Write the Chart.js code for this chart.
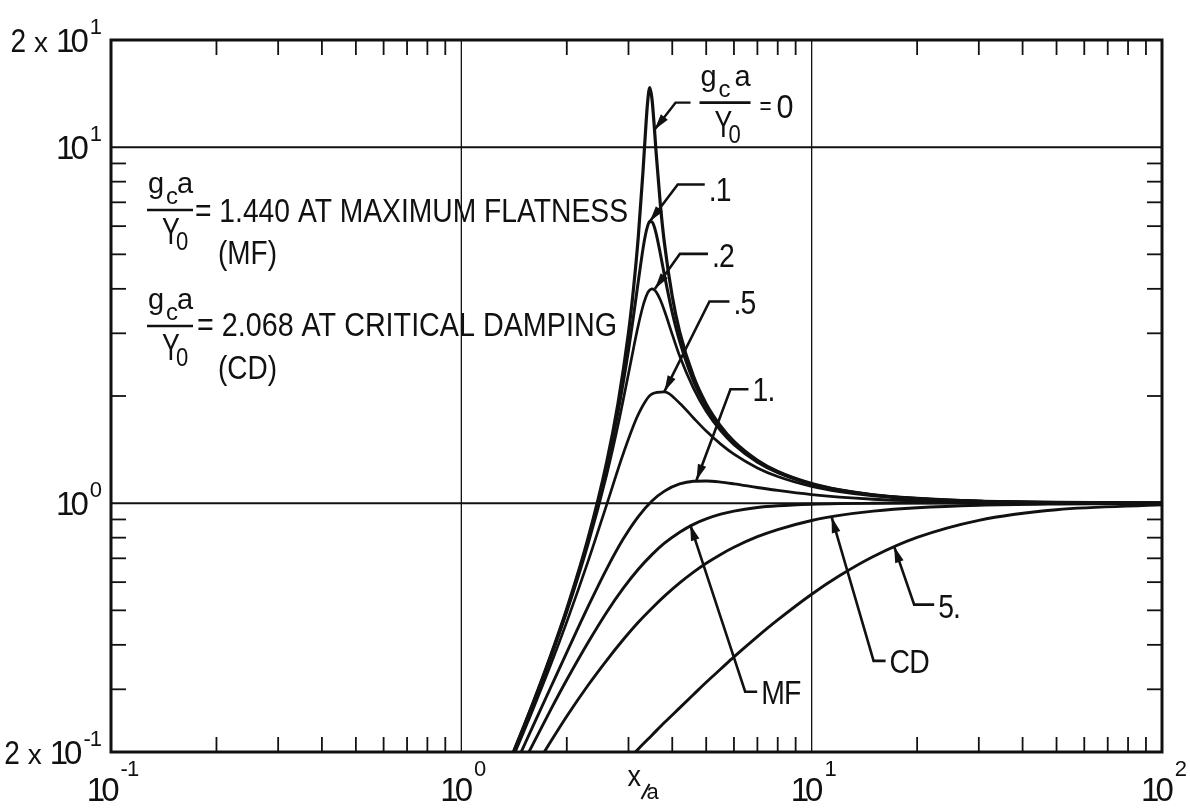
<!DOCTYPE html>
<html>
<head>
<meta charset="utf-8">
<title>Amplitude ratio versus x/a</title>
<script src="https://cdn.jsdelivr.net/npm/chart.js"></script>
<style>
  html, body { margin: 0; padding: 0; background: #fff; }
  canvas { display: block; }
</style>
</head>
<body>
<canvas id="chart" width="1190" height="808"></canvas>
<script>
// ---- sampled curves: frequency ratio x/a and amplitude ratio ----
const xDense = [1.2, 1.4, 1.6, 1.8, 2.0, 2.3, 2.6, 2.8, 3.0, 3.1, 3.2, 3.3, 3.35, 3.4, 3.45, 3.5, 3.55, 3.6, 3.7, 3.8,
                4.0, 4.2, 4.6, 5.0, 5.5, 6, 7, 8, 10, 12, 15, 20, 30, 50, 100];
const ampG0 = [0.138, 0.197, 0.274, 0.374, 0.505, 0.797, 1.305, 1.905, 3.01, 4.00, 5.61, 8.54, 10.8, 13.3, 14.7, 13.7, 11.6, 9.58, 6.89, 5.37,
               3.81, 3.03, 2.27, 1.90, 1.645, 1.491, 1.320, 1.228, 1.135, 1.090, 1.056, 1.031, 1.013, 1.005, 1.001];
const ampG01 = [0.137, 0.197, 0.273, 0.372, 0.501, 0.785, 1.265, 1.80, 2.69, 3.35, 4.20, 5.18, 5.64, 5.99, 6.18, 6.17, 6.00, 5.71, 5.01, 4.37,
                3.43, 2.85, 2.20, 1.867, 1.626, 1.480, 1.314, 1.224, 1.133, 1.089, 1.055, 1.030, 1.013, 1.005, 1.001];
const ampG02 = [0.137, 0.196, 0.271, 0.368, 0.494, 0.766, 1.203, 1.655, 2.31, 2.72, 3.16, 3.58, 3.75, 3.89, 3.97, 4.00, 3.98, 3.92, 3.72, 3.47,
                2.98, 2.59, 2.10, 1.812, 1.596, 1.460, 1.303, 1.218, 1.130, 1.087, 1.054, 1.030, 1.013, 1.005, 1.001];

const xCoarse = [1.2, 1.4, 1.6, 1.8, 2.0, 2.3, 2.6, 2.9, 3.2, 3.5, 3.8, 4.2, 4.6, 5.0, 5.5, 6, 7, 8, 10, 12, 15, 20, 30, 50, 100];
const ampG05 = [0.135, 0.192, 0.263, 0.352, 0.464, 0.686, 0.991, 1.379, 1.776, 2.026, 2.054, 1.909, 1.735, 1.594, 1.465, 1.373, 1.256,
                1.188, 1.114, 1.077, 1.048, 1.027, 1.012, 1.004, 1.001];
const ampG1 = [0.128, 0.177, 0.236, 0.304, 0.381, 0.512, 0.654, 0.794, 0.917, 1.014, 1.081, 1.132, 1.152, 1.154, 1.146, 1.133, 1.107,
               1.086, 1.057, 1.040, 1.026, 1.015, 1.007, 1.002, 1.001];
const ampMF = [0.120, 0.163, 0.210, 0.263, 0.319, 0.406, 0.494, 0.577, 0.652, 0.717, 0.772, 0.829, 0.872, 0.903, 0.931, 0.950, 0.972,
               0.983, 0.993, 0.997, 0.999, 1.0, 1.0, 1.0, 1.0];
const ampCD = [0.108, 0.141, 0.177, 0.214, 0.252, 0.308, 0.362, 0.414, 0.463, 0.507, 0.548, 0.597, 0.640, 0.678, 0.718, 0.752, 0.805,
               0.843, 0.894, 0.924, 0.950, 0.971, 0.987, 0.995, 0.999];

const xHeavy = [2.9, 3.2, 3.5, 3.8, 4.2, 4.6, 5.0, 5.5, 6, 7, 8, 10, 12, 15, 20, 30, 50, 100];
const ampG5 = [0.184, 0.204, 0.223, 0.242, 0.266, 0.290, 0.314, 0.342, 0.370, 0.422, 0.470, 0.555, 0.625, 0.708, 0.801, 0.895, 0.958, 0.989];

// ---- axis decoration values ----
const xRange = [0.1, 100];
const yRange = [0.2, 20];
const decades = [0.1, 1, 10];
const minorSteps = [2, 3, 4, 5, 6, 7, 8, 9];
const gridValues = [1, 10];
const xTickLabels = [{ v: 0.1, exp: '-1' }, { v: 1, exp: '0' }, { v: 10, exp: '1' }, { v: 100, exp: '2' }];
const yTickLabels = [{ v: 20, lead: '2', exp: '1' }, { v: 10, lead: null, exp: '1' },
                     { v: 1, lead: null, exp: '0' }, { v: 0.2, lead: '2', exp: '-1' }];

// curve call-outs: arrow tip sits on the curve (data units), leader bends given in pixels from the tip
const callouts = [
  { text: null, tip: [3.56, 11.2], elbow: [21, -27], end: [36, -27] },
  { text: '.1', tip: [3.45, 6.18], elbow: [28, -37], end: [55, -37], dy: 16 },
  { text: '.2', tip: [3.57, 4.0], elbow: [25, -35], end: [53, -35], dy: 13 },
  { text: '.5', tip: [3.8, 2.06], elbow: [45, -90], end: [65, -90], dy: 13 },
  { text: '1.', tip: [4.69, 1.16], elbow: [34, -91], end: [52, -91], dy: 12 },
  { text: 'MF', tip: [4.5, 0.87], elbow: [55, 167], end: [67, 167], dy: 12 },
  { text: 'CD', tip: [11.4, 0.915], elbow: [42, 144], end: [54, 144], dy: 12 },
  { text: '5.', tip: [17.2, 0.755], elbow: [20, 58], end: [40, 58], dy: 13 }
];

const INK = '#111';
const FONT = '"Liberation Sans", Arial, Helvetica, sans-serif';
const TICK = 15;

function pts(xs, ys) { return xs.map((x, i) => ({ x: x, y: ys[i] })); }

function measure(ctx, s, size, ls) {
  ctx.save();
  ctx.font = size + 'px ' + FONT;
  ctx.letterSpacing = (ls || 0) + 'px';
  const w = ctx.measureText(s).width - (ls || 0);
  ctx.restore();
  return w;
}

function put(ctx, s, x, base, size, o) {
  o = o || {};
  ctx.save();
  ctx.font = size + 'px ' + FONT;
  ctx.letterSpacing = (o.ls || 0) + 'px';
  ctx.textBaseline = 'alphabetic';
  ctx.textAlign = 'left';
  const w = ctx.measureText(s).width - (o.ls || 0);
  const k = o.width ? o.width / w : (o.sx || 1);
  let left = x;
  if (o.align === 'right') left = x - w * k;
  else if (o.align === 'center') left = x - w * k / 2;
  ctx.translate(left, base);
  ctx.scale(k, 1);
  ctx.fillStyle = INK;
  ctx.fillText(s, 0, 0);
  ctx.restore();
  return w * k;
}

function seg(ctx, x1, y1, x2, y2) {
  ctx.beginPath(); ctx.moveTo(x1, y1); ctx.lineTo(x2, y2); ctx.stroke();
}

function arrowHead(ctx, fx, fy, tx, ty) {
  const a = Math.atan2(ty - fy, tx - fx), len = 16, half = 4.4;
  const bx = tx - len * Math.cos(a), by = ty - len * Math.sin(a);
  ctx.beginPath();
  ctx.moveTo(tx, ty);
  ctx.lineTo(bx + half * Math.sin(a), by - half * Math.cos(a));
  ctx.lineTo(bx - half * Math.sin(a), by + half * Math.cos(a));
  ctx.closePath();
  ctx.fill();
}

// g_c a / Y_0 stacked fraction with its bar starting at (bx, by)
function fraction(ctx, bx, by, w) {
  put(ctx, 'g', bx + 1, by - 17, 29);
  put(ctx, 'c', bx + 19, by - 6, 24);
  put(ctx, 'a', bx + w - 16, by - 17, 29);
  ctx.lineWidth = 2.6;
  seg(ctx, bx, by, bx + w, by);
  put(ctx, 'Y', bx + 15, by + 34, 37, { sx: 0.72 });
  put(ctx, '0', bx + 29, by + 40, 26, { sx: 0.85 });
}

const decorations = {
  id: 'decorations',
  beforeDatasetsDraw(chart) {
    const { ctx, chartArea: a, scales: { x, y } } = chart;
    ctx.save();
    ctx.strokeStyle = INK;
    ctx.lineWidth = 1.3;
    gridValues.forEach(v => { const px = x.getPixelForValue(v); seg(ctx, px, a.top, px, a.bottom); });
    ctx.lineWidth = 2;
    gridValues.forEach(v => { const py = y.getPixelForValue(v); seg(ctx, a.left, py, a.right, py); });
    ctx.restore();
  },
  afterDatasetsDraw(chart) {
    const { ctx, chartArea: a, scales: { x, y } } = chart;
    ctx.save();
    ctx.strokeStyle = INK;
    ctx.fillStyle = INK;
    // frame
    ctx.lineWidth = 3;
    ctx.strokeRect(a.left, a.top, a.right - a.left, a.bottom - a.top);
    // inward minor ticks on all four sides
    ctx.lineWidth = 1.8;
    decades.forEach(d => minorSteps.forEach(m => {
      const v = d * m;
      if (v > xRange[0] && v < xRange[1]) {
        const px = x.getPixelForValue(v);
        seg(ctx, px, a.bottom, px, a.bottom - TICK);
        seg(ctx, px, a.top, px, a.top + TICK);
      }
      if (v > yRange[0] + 1e-9 && v < yRange[1] - 1e-9) {
        const py = y.getPixelForValue(v);
        seg(ctx, a.left, py, a.left + TICK, py);
        seg(ctx, a.right, py, a.right - TICK, py);
      }
    }));
    // call-out leaders with arrowheads
    ctx.lineWidth = 2.4;
    callouts.forEach(c => {
      const tx = x.getPixelForValue(c.tip[0]), ty = y.getPixelForValue(c.tip[1]);
      const ex = tx + c.elbow[0], ey = ty + c.elbow[1];
      const nx = tx + c.end[0], ny = ty + c.end[1];
      ctx.beginPath(); ctx.moveTo(nx, ny); ctx.lineTo(ex, ey); ctx.lineTo(tx, ty); ctx.stroke();
      arrowHead(ctx, ex, ey, tx, ty);
      if (c.text) put(ctx, c.text, nx + 4, ny + c.dy, 33, { sx: 0.86, ls: -1 });
      else {
        fraction(ctx, nx + 9, ny, 51);
        put(ctx, '=', nx + 69, ny + 11, 26, { sx: 0.8 });
        put(ctx, '0', nx + 86, ny + 15, 34, { sx: 0.9 });
      }
    });
    ctx.restore();
  },
  afterDraw(chart) {
    const { ctx, chartArea: a, scales: { x, y } } = chart;
    ctx.save();
    // y tick labels, right-aligned against the frame
    yTickLabels.forEach(l => {
      const py = y.getPixelForValue(l.v);
      const we = measure(ctx, l.exp, 22, -1);
      const expLeft = a.left - 9 - we;
      put(ctx, l.exp, expLeft, py - 6, 22, { ls: -1 });
      const w10 = put(ctx, '10', expLeft - 1, py + 12, 33, { align: 'right', ls: -4 });
      if (l.lead) {
        const xw = put(ctx, 'x', expLeft - 1 - w10 - 8, py + 12, 28, { align: 'right' });
        put(ctx, l.lead, expLeft - 1 - w10 - 8 - xw - 8, py + 12, 33, { align: 'right', sx: 0.85 });
      }
    });
    // x tick labels
    xTickLabels.forEach(l => {
      const px = x.getPixelForValue(l.v);
      const wm = measure(ctx, '10', 33, -4);
      const we = measure(ctx, l.exp, 22, -1);
      const left = px + 2 - (wm + 1 + we) / 2;
      put(ctx, '10', left, a.bottom + 49, 33, { ls: -4 });
      put(ctx, l.exp, left + wm + 1, a.bottom + 24, 22, { ls: -1 });
    });
    // axis title x/a
    const cx = (a.left + a.right) / 2;
    put(ctx, 'x', cx - 9, a.bottom + 34, 30, { sx: 0.9 });
    ctx.strokeStyle = INK; ctx.lineWidth = 2;
    seg(ctx, cx + 5, a.bottom + 47, cx + 13, a.bottom + 32);
    put(ctx, 'a', cx + 10, a.bottom + 47, 22);
    // notes on the left
    fraction(ctx, a.left + 36, 210, 46);
    put(ctx, '= 1.440 AT MAXIMUM FLATNESS', a.left + 84, 222, 34, { width: 433 });
    put(ctx, '(MF)', a.left + 107, 264, 34, { width: 59 });
    fraction(ctx, a.left + 36, 326, 46);
    put(ctx, '= 2.068 AT CRITICAL DAMPING', a.left + 86, 336, 34, { width: 420 });
    put(ctx, '(CD)', a.left + 107, 379, 34, { width: 59 });
    ctx.restore();
  }
};

const curveStyle = (w) => ({
  borderColor: INK, borderWidth: w, pointRadius: 0, fill: false,
  cubicInterpolationMode: 'monotone'
});

new Chart(document.getElementById('chart'), {
  type: 'line',
  data: {
    datasets: [
      Object.assign({ label: '0', data: pts(xDense, ampG0) }, curveStyle(3.2)),
      Object.assign({ label: '.1', data: pts(xDense, ampG01) }, curveStyle(3)),
      Object.assign({ label: '.2', data: pts(xDense, ampG02) }, curveStyle(2.7)),
      Object.assign({ label: '.5', data: pts(xCoarse, ampG05) }, curveStyle(2.7)),
      Object.assign({ label: '1.', data: pts(xCoarse, ampG1) }, curveStyle(2.9)),
      Object.assign({ label: 'MF', data: pts(xCoarse, ampMF) }, curveStyle(2.9)),
      Object.assign({ label: 'CD', data: pts(xCoarse, ampCD) }, curveStyle(2.9)),
      Object.assign({ label: '5.', data: pts(xHeavy, ampG5) }, curveStyle(2.9))
    ]
  },
  options: {
    responsive: false,
    animation: false,
    events: [],
    layout: { padding: { top: 40, right: 28, left: 0, bottom: 0 } },
    plugins: { legend: { display: false }, tooltip: { enabled: false } },
    scales: {
      x: {
        type: 'logarithmic', min: xRange[0], max: xRange[1],
        ticks: { display: false }, grid: { display: false }, border: { display: false },
        afterFit(s) { s.height = 56; }
      },
      y: {
        type: 'logarithmic', min: yRange[0], max: yRange[1],
        ticks: { display: false }, grid: { display: false }, border: { display: false },
        afterFit(s) { s.width = 111; }
      }
    }
  },
  plugins: [decorations]
});
</script>
</body>
</html>
